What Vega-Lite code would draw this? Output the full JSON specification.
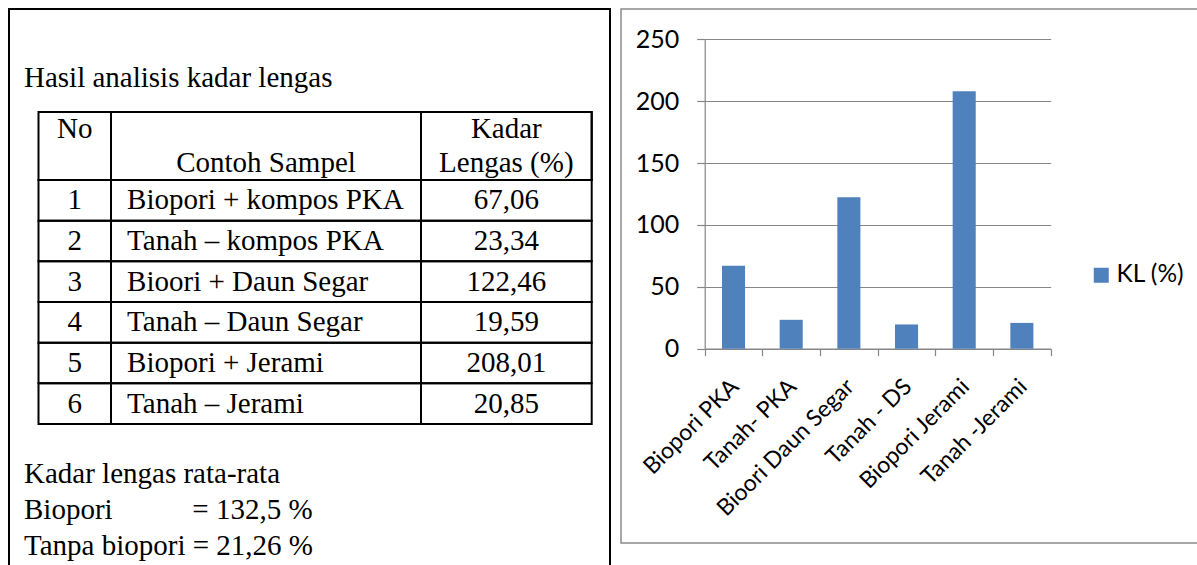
{
  "$schema": "https://vega.github.io/schema/vega-lite/v6.json",
  "background": "white",
  "padding": {"left": 8, "top": 8, "right": 0, "bottom": 0},
  "spacing": 1,
  "resolve": {"scale": {"color": "independent"}, "legend": {"color": "independent"}},
  "datasets": {
    "header": [
      {"col": "No", "line": "1", "text": "No"},
      {"col": "Sampel", "line": "2", "text": "Contoh Sampel"},
      {"col": "KL", "line": "1", "text": "Kadar"},
      {"col": "KL", "line": "2", "text": "Lengas (%)"}
    ],
    "table": [
      {"no": "1", "sampel": "Biopori + kompos PKA", "kl": "67,06"},
      {"no": "2", "sampel": "Tanah – kompos PKA", "kl": "23,34"},
      {"no": "3", "sampel": "Bioori + Daun Segar", "kl": "122,46"},
      {"no": "4", "sampel": "Tanah – Daun Segar", "kl": "19,59"},
      {"no": "5", "sampel": "Biopori + Jerami", "kl": "208,01"},
      {"no": "6", "sampel": "Tanah – Jerami", "kl": "20,85"}
    ],
    "notes": [
      {"line": "1", "text": "Kadar lengas rata-rata"},
      {"line": "2", "text": "Biopori\u00a0\u00a0\u00a0\u00a0\u00a0\u00a0\u00a0\u00a0\u00a0\u00a0\u00a0= 132,5 %"},
      {"line": "3", "text": "Tanpa biopori = 21,26 %"}
    ],
    "chart": [
      {"sample": "Biopori PKA", "kl": 67.06},
      {"sample": "Tanah- PKA", "kl": 23.34},
      {"sample": "Bioori Daun Segar", "kl": 122.46},
      {"sample": "Tanah - DS", "kl": 19.59},
      {"sample": "Biopori Jerami", "kl": 208.01},
      {"sample": "Tanah -Jerami", "kl": 20.85}
    ]
  },
  "hconcat": [
    {
      "width": 601,
      "height": 570,
      "view": {"stroke": "#000000", "strokeWidth": 2},
      "resolve": {"scale": {"x": "independent", "y": "independent"}},
      "layer": [
        {
          "data": {"values": [{"text": "Hasil analisis kadar lengas"}]},
          "mark": {"type": "text", "align": "left", "baseline": "alphabetic", "font": "Liberation Serif", "fontSize": 29, "color": "#000000"},
          "encoding": {
            "x": {"datum": "t", "type": "nominal", "bandPosition": 0, "scale": {"type": "band", "range": [15, 560], "paddingInner": 0, "paddingOuter": 0}, "axis": null},
            "y": {"datum": "t", "type": "nominal", "bandPosition": 0, "scale": {"type": "band", "range": [78, 100], "paddingInner": 0, "paddingOuter": 0}, "axis": null},
            "text": {"field": "text"}
          }
        },
        {
          "data": {"name": "notes"},
          "mark": {"type": "text", "align": "left", "baseline": "middle", "font": "Liberation Serif", "fontSize": 29, "color": "#000000"},
          "encoding": {
            "x": {"datum": "t", "type": "nominal", "bandPosition": 0, "scale": {"type": "band", "range": [15, 560], "paddingInner": 0, "paddingOuter": 0}, "axis": null},
            "y": {"field": "line", "type": "nominal", "scale": {"type": "band", "range": [447, 555], "paddingInner": 0, "paddingOuter": 0}, "axis": null},
            "text": {"field": "text"}
          }
        },
        {
          "resolve": {"scale": {"y": "independent"}},
          "layer": [
            {
              "data": {"name": "header"},
              "transform": [{"filter": "datum.col === 'No'"}],
              "mark": {"type": "rect", "fillOpacity": 0, "stroke": "#000000", "strokeWidth": 2},
              "encoding": {
                "x": {"datum": "No", "type": "nominal", "scale": {"type": "band", "range": [29.5, 102], "paddingInner": 0, "paddingOuter": 0}, "axis": null},
                "y": {"datum": "h", "type": "nominal", "scale": {"type": "band", "range": [103, 171], "paddingInner": 0, "paddingOuter": 0}, "axis": null}
              }
            },
            {
              "data": {"name": "header"},
              "transform": [{"filter": "datum.col === 'No'"}],
              "mark": {"type": "text", "align": "center", "baseline": "alphabetic", "font": "Liberation Serif", "fontSize": 29, "color": "#000000"},
              "encoding": {
                "x": {"datum": "No", "type": "nominal", "scale": {"type": "band", "range": [29.5, 102], "paddingInner": 0, "paddingOuter": 0}, "axis": null},
                "y": {"field": "line", "type": "nominal", "bandPosition": 0.77, "scale": {"type": "band", "domain": ["1", "2"], "range": [103, 171], "paddingInner": 0, "paddingOuter": 0}, "axis": null},
                "text": {"field": "text"}
              }
            },
            {
              "data": {"name": "table"},
              "mark": {"type": "rect", "fillOpacity": 0, "stroke": "#000000", "strokeWidth": 2},
              "encoding": {
                "x": {"datum": "No", "type": "nominal", "scale": {"type": "band", "range": [29.5, 102], "paddingInner": 0, "paddingOuter": 0}, "axis": null},
                "y": {"field": "no", "type": "nominal", "scale": {"type": "band", "range": [171, 415], "paddingInner": 0, "paddingOuter": 0}, "axis": null}
              }
            },
            {
              "data": {"name": "table"},
              "mark": {"type": "text", "align": "center", "baseline": "alphabetic", "font": "Liberation Serif", "fontSize": 29, "color": "#000000"},
              "encoding": {
                "x": {"datum": "No", "type": "nominal", "scale": {"type": "band", "range": [29.5, 102], "paddingInner": 0, "paddingOuter": 0}, "axis": null},
                "y": {"field": "no", "type": "nominal", "bandPosition": 0.72, "scale": {"type": "band", "range": [171, 415], "paddingInner": 0, "paddingOuter": 0}, "axis": null},
                "text": {"field": "no"}
              }
            }
          ]
        },
        {
          "resolve": {"scale": {"y": "independent"}},
          "layer": [
            {
              "data": {"name": "header"},
              "transform": [{"filter": "datum.col === 'Sampel'"}],
              "mark": {"type": "rect", "fillOpacity": 0, "stroke": "#000000", "strokeWidth": 2},
              "encoding": {
                "x": {"datum": "Sampel", "type": "nominal", "scale": {"type": "band", "range": [102, 412], "paddingInner": 0, "paddingOuter": 0}, "axis": null},
                "y": {"datum": "h", "type": "nominal", "scale": {"type": "band", "range": [103, 171], "paddingInner": 0, "paddingOuter": 0}, "axis": null}
              }
            },
            {
              "data": {"name": "header"},
              "transform": [{"filter": "datum.col === 'Sampel'"}],
              "mark": {"type": "text", "align": "center", "baseline": "alphabetic", "font": "Liberation Serif", "fontSize": 29, "color": "#000000"},
              "encoding": {
                "x": {"datum": "Sampel", "type": "nominal", "scale": {"type": "band", "range": [102, 412], "paddingInner": 0, "paddingOuter": 0}, "axis": null},
                "y": {"field": "line", "type": "nominal", "bandPosition": 0.77, "scale": {"type": "band", "domain": ["1", "2"], "range": [103, 171], "paddingInner": 0, "paddingOuter": 0}, "axis": null},
                "text": {"field": "text"}
              }
            },
            {
              "data": {"name": "table"},
              "mark": {"type": "rect", "fillOpacity": 0, "stroke": "#000000", "strokeWidth": 2},
              "encoding": {
                "x": {"datum": "Sampel", "type": "nominal", "scale": {"type": "band", "range": [102, 412], "paddingInner": 0, "paddingOuter": 0}, "axis": null},
                "y": {"field": "no", "type": "nominal", "scale": {"type": "band", "range": [171, 415], "paddingInner": 0, "paddingOuter": 0}, "axis": null}
              }
            },
            {
              "data": {"name": "table"},
              "mark": {"type": "text", "align": "left", "baseline": "alphabetic", "font": "Liberation Serif", "fontSize": 29, "color": "#000000"},
              "encoding": {
                "x": {"datum": "Sampel", "type": "nominal", "bandPosition": 0.052, "scale": {"type": "band", "range": [102, 412], "paddingInner": 0, "paddingOuter": 0}, "axis": null},
                "y": {"field": "no", "type": "nominal", "bandPosition": 0.72, "scale": {"type": "band", "range": [171, 415], "paddingInner": 0, "paddingOuter": 0}, "axis": null},
                "text": {"field": "sampel"}
              }
            }
          ]
        },
        {
          "resolve": {"scale": {"y": "independent"}},
          "layer": [
            {
              "data": {"name": "header"},
              "transform": [{"filter": "datum.col === 'KL'"}],
              "mark": {"type": "rect", "fillOpacity": 0, "stroke": "#000000", "strokeWidth": 2},
              "encoding": {
                "x": {"datum": "KL", "type": "nominal", "scale": {"type": "band", "range": [412, 582.7], "paddingInner": 0, "paddingOuter": 0}, "axis": null},
                "y": {"datum": "h", "type": "nominal", "scale": {"type": "band", "range": [103, 171], "paddingInner": 0, "paddingOuter": 0}, "axis": null}
              }
            },
            {
              "data": {"name": "header"},
              "transform": [{"filter": "datum.col === 'KL'"}],
              "mark": {"type": "text", "align": "center", "baseline": "alphabetic", "font": "Liberation Serif", "fontSize": 29, "color": "#000000"},
              "encoding": {
                "x": {"datum": "KL", "type": "nominal", "scale": {"type": "band", "range": [412, 582.7], "paddingInner": 0, "paddingOuter": 0}, "axis": null},
                "y": {"field": "line", "type": "nominal", "bandPosition": 0.77, "scale": {"type": "band", "domain": ["1", "2"], "range": [103, 171], "paddingInner": 0, "paddingOuter": 0}, "axis": null},
                "text": {"field": "text"}
              }
            },
            {
              "data": {"name": "table"},
              "mark": {"type": "rect", "fillOpacity": 0, "stroke": "#000000", "strokeWidth": 2},
              "encoding": {
                "x": {"datum": "KL", "type": "nominal", "scale": {"type": "band", "range": [412, 582.7], "paddingInner": 0, "paddingOuter": 0}, "axis": null},
                "y": {"field": "no", "type": "nominal", "scale": {"type": "band", "range": [171, 415], "paddingInner": 0, "paddingOuter": 0}, "axis": null}
              }
            },
            {
              "data": {"name": "table"},
              "mark": {"type": "text", "align": "center", "baseline": "alphabetic", "font": "Liberation Serif", "fontSize": 29, "color": "#000000"},
              "encoding": {
                "x": {"datum": "KL", "type": "nominal", "scale": {"type": "band", "range": [412, 582.7], "paddingInner": 0, "paddingOuter": 0}, "axis": null},
                "y": {"field": "no", "type": "nominal", "bandPosition": 0.72, "scale": {"type": "band", "range": [171, 415], "paddingInner": 0, "paddingOuter": 0}, "axis": null},
                "text": {"field": "kl"}
              }
            }
          ]
        }
      ]
    },
    {
      "width": 580,
      "height": 534,
      "view": {"stroke": "#8c8c8c", "strokeWidth": 1.5},
      "data": {"name": "chart"},
      "mark": {"type": "bar", "width": {"band": 0.4}},
      "encoding": {
        "x": {
          "field": "sample", "type": "nominal", "sort": null,
          "scale": {"type": "band", "range": [83.7, 429.7], "paddingInner": 0, "paddingOuter": 0},
          "axis": {
            "title": null, "offset": -194.3, "tickBand": "extent", "grid": false,
            "labelAngle": -45, "labelAlign": "right", "labelBaseline": "middle",
            "labelFont": "Lato", "labelFontSize": 23, "labelColor": "#000000",
            "labelPadding": 27, "labelOffset": 1, "labelLimit": 400, "labelOverlap": false,
            "domainColor": "#868686", "domainWidth": 1.2, "tickColor": "#868686", "tickSize": 7, "tickWidth": 1.2
          }
        },
        "y": {
          "field": "kl", "type": "quantitative",
          "scale": {"domain": [0, 250], "range": [339.7, 30.3], "nice": false},
          "axis": {
            "title": null, "offset": -83.7, "values": [0, 50, 100, 150, 200, 250],
            "grid": true, "gridColor": "#868686", "gridWidth": 1.2, "gridOpacity": 1,
            "domainColor": "#868686", "domainWidth": 1.2, "tickColor": "#868686", "tickSize": 8, "tickWidth": 1.2,
            "labelPadding": 18, "labelFont": "Lato", "labelFontSize": 25, "labelColor": "#000000", "labelOverlap": false
          }
        },
        "color": {
          "datum": "KL (%)", "type": "nominal",
          "scale": {"range": ["#4F81BD"]},
          "legend": {
            "orient": "none", "legendX": 468, "legendY": 254, "title": null,
            "symbolType": "square", "symbolSize": 225, "symbolStrokeWidth": 0, "symbolOpacity": 1,
            "labelFont": "Lato", "labelFontSize": 24.5, "labelColor": "#000000", "labelOffset": 3
          }
        }
      }
    }
  ]
}
